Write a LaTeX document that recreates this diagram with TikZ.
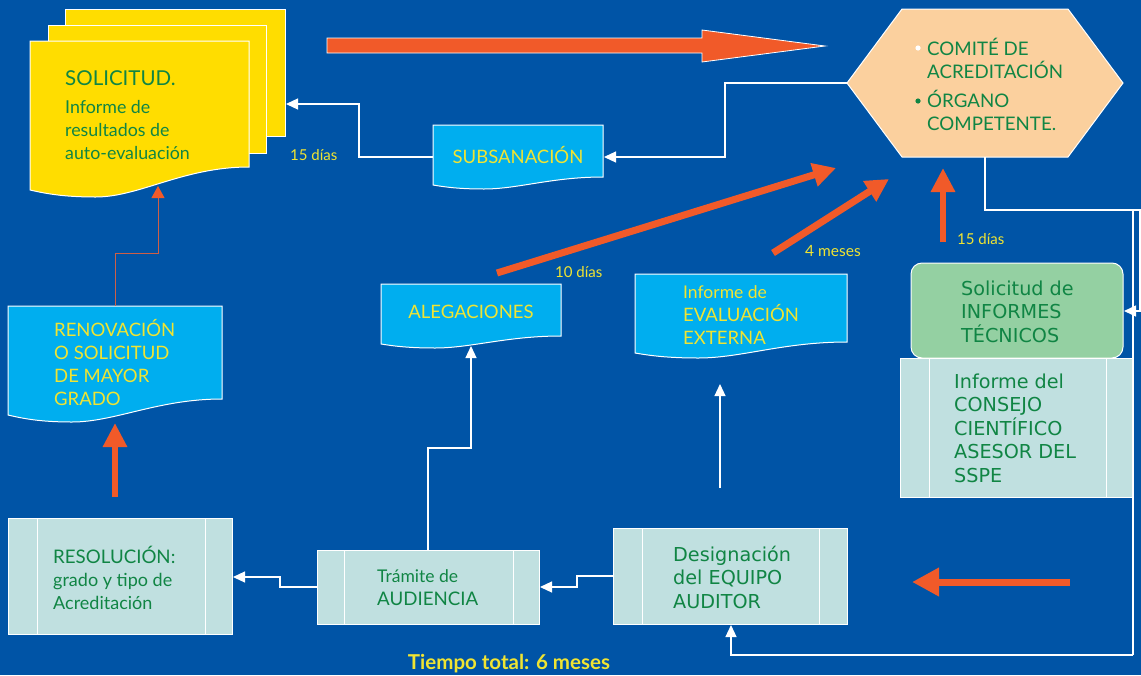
\documentclass[tikz,border=0pt]{standalone}
\usepackage{fontspec}
\setmainfont{Lato}
\newfontfamily\dvs{DejaVu Sans}
\usetikzlibrary{arrows.meta}
\definecolor{bgblue}{RGB}{0,84,166}
\definecolor{orng}{RGB}{241,90,41}
\definecolor{yfill}{RGB}{255,221,0}
\definecolor{cfill}{RGB}{0,174,239}
\definecolor{tfill}{RGB}{192,224,224}
\definecolor{gtxt}{RGB}{16,133,68}
\definecolor{ytxt}{RGB}{240,228,50}
\definecolor{pfill}{RGB}{251,208,158}
\definecolor{lgfill}{RGB}{148,208,162}
\definecolor{rline}{RGB}{205,95,70}
\tikzset{
  boxedge/.style={draw=white, line width=1pt},
  wline/.style={draw=white, line width=1.2pt},
  warrow/.style={wline, -{Triangle[length=12pt,width=11pt]}},
  oarrow/.style={draw=orng, line width=6.5pt, -{Triangle[length=24pt,width=23pt]}},
  darrow/.style={draw=orng, line width=7pt, -{Triangle[length=23pt,width=23pt]}},
  txt/.style={inner sep=0pt, anchor=base west},
  gl/.style={txt, text=gtxt, font=\fontsize{18.7}{22}\selectfont},
  gs/.style={txt, text=gtxt, font=\fontsize{17.8}{22}\selectfont},
  yl/.style={txt, text=ytxt, font=\fontsize{18.5}{22}\selectfont},
  ys/.style={txt, text=ytxt, font=\fontsize{17.5}{22}\selectfont},
  dl/.style={txt, text=gtxt, font=\dvs\fontsize{19.2}{22}\selectfont},
  dur/.style={txt, text=ytxt, font=\fontsize{15}{18}\selectfont},
}
\begin{document}
\begin{tikzpicture}[x=1pt,y=-1pt]
\fill[bgblue] (0,0) rectangle (1141,675);
\useasboundingbox (0,0) rectangle (1141,675);

% ---- SOLICITUD stacked pages
\filldraw[fill=yfill, boxedge] (65,9) rectangle (285,136);
\filldraw[fill=yfill, boxedge] (48,25) rectangle (266,153);
\filldraw[fill=yfill, boxedge] (30,41) -- (249,41) -- (249,167)
  .. controls (183.3,167) and (139.5,197) .. (95.7,197)
  .. controls (62.9,197) and (45.3,193.5) .. (30,190) -- cycle;
\node[gl, font=\fontsize{20.5}{22}\selectfont] (sol1) at (65,85) {SOLICITUD.};
\node[gs] (sol2) at (65,113) {Informe de};
\node[gs] (sol3) at (65,136) {resultados de};
\node[gs] (sol4) at (65,159) {auto-evaluación};

% ---- big top arrow
\filldraw[fill=orng, draw=white, line width=0.8pt]
  (327,38) -- (702,38) -- (702,30) -- (825,46) -- (702,62) -- (702,53) -- (327,53) -- cycle;

% ---- hexagon
\filldraw[fill=pfill, boxedge] (902,9) -- (1068,9) -- (1123,83) -- (1068,157) -- (902,157) -- (847,83) -- cycle;
\fill[white] (918,48) circle (2.6);
\fill[gtxt] (918,101) circle (2.6);
\node[gl] (hx1) at (927,55) {COMITÉ DE};
\node[gl] (hx2) at (927,78) {ACREDITACIÓN};
\node[gl] (hx3) at (927,107) {ÓRGANO};
\node[gl] (hx4) at (927,130) {COMPETENTE.};

% ---- SUBSANACION
\filldraw[fill=cfill, boxedge] (433,125) -- (603,125) -- (603,177)
  .. controls (552,177) and (518,189) .. (484,189)
  .. controls (458.5,189) and (445,187) .. (433,185) -- cycle;
\node[yl, anchor=base] (sub) at (518,163) {SUBSANACIÓN};
\node[dur] (d15a) at (290,160) {15 días};

% ---- RENOVACION
\filldraw[fill=cfill, boxedge] (8,306) -- (222,306) -- (222,399)
  .. controls (158,399) and (115,422) .. (72,422)
  .. controls (40,422) and (23,418.5) .. (8,415) -- cycle;
\node[yl] (ren1) at (54,336) {RENOVACIÓN};
\node[yl] (ren2) at (54,359) {O SOLICITUD};
\node[yl] (ren3) at (54,382) {DE MAYOR};
\node[yl] (ren4) at (54,405) {GRADO};

% ---- ALEGACIONES
\filldraw[fill=cfill, boxedge] (381,284) -- (561,284) -- (561,336)
  .. controls (507,336) and (471,348) .. (435,348)
  .. controls (408,348) and (393.6,346) .. (381,344) -- cycle;
\node[yl, anchor=base] (ale) at (471,318) {ALEGACIONES};
\node[dur] (d10) at (555,277) {10 días};

% ---- Informe de EVALUACION EXTERNA
\filldraw[fill=cfill, boxedge] (635,274) -- (847,274) -- (847,342)
  .. controls (783.4,342) and (741,358) .. (698.6,358)
  .. controls (666.8,358) and (649.8,355.5) .. (635,353) -- cycle;
\node[ys] (ee1) at (683,298) {Informe de};
\node[yl] (ee2) at (683,321) {EVALUACIÓN};
\node[yl] (ee3) at (683,344) {EXTERNA};
\node[dur, font=\fontsize{15.5}{18}\selectfont] (d4m) at (805,256) {4 meses};
\node[dur] (d15b) at (957,244) {15 días};

% ---- Solicitud de INFORMES TECNICOS
\filldraw[fill=lgfill, boxedge, rounded corners=11pt] (911,263) rectangle (1123,358);
\node[dl] (inf1) at (961,295) {Solicitud de};
\node[dl] (inf2) at (961,318) {INFORMES};
\node[dl] (inf3) at (961,342) {TÉCNICOS};

% ---- Informe del CONSEJO
\filldraw[fill=tfill, boxedge] (900,358) rectangle (1133,497);
\draw[boxedge] (929,358) -- (929,497) (1106,358) -- (1106,497);
\node[dl] (con1) at (954,388) {Informe del};
\node[dl] (con2) at (954,411) {CONSEJO};
\node[dl] (con3) at (954,435) {CIENTÍFICO};
\node[dl] (con4) at (954,458) {ASESOR DEL};
\node[dl] (con5) at (954,482) {SSPE};

% ---- RESOLUCION
\filldraw[fill=tfill, boxedge] (8,518) rectangle (232,634);
\draw[boxedge] (37,518) -- (37,634) (205,518) -- (205,634);
\node[gl] (res1) at (53,563) {RESOLUCIÓN:};
\node[gs, font=\fontsize{18}{22}\selectfont] (res2) at (53,586) {grado y tipo de};
\node[gs, font=\fontsize{18}{22}\selectfont] (res3) at (53,609) {Acreditación};

% ---- Tramite de AUDIENCIA
\filldraw[fill=tfill, boxedge] (317,550) rectangle (539,624);
\draw[boxedge] (344,550) -- (344,624) (513,550) -- (513,624);
\node[gs, font=\fontsize{17.5}{20}\selectfont] (tr1) at (377,582) {Trámite de};
\node[gl] (tr2) at (377,605) {AUDIENCIA};

% ---- Designacion del EQUIPO AUDITOR
\filldraw[fill=tfill, boxedge] (613,528) rectangle (847,624);
\draw[boxedge] (642,528) -- (642,624) (819,528) -- (819,624);
\node[dl] (de1) at (673,561) {Designación};
\node[dl] (de2) at (673,584) {del EQUIPO};
\node[dl] (de3) at (673,608) {AUDITOR};

\node[txt, anchor=base, text=ytxt, font=\bfseries\fontsize{20.5}{22}\selectfont] (tot) at (509,669) {Tiempo total: 6 meses};

% ---- connection points
\coordinate (hexL) at (847,83);
\coordinate (subR) at (604,157);
\coordinate (subL) at (433,157);
\coordinate (solR) at (286,104);
\coordinate (hexB) at (985,157);
\coordinate (infR) at (1124,311);
\coordinate (desB) at (731,625);
\coordinate (desL) at (613,576);
\coordinate (traR) at (540,587);
\coordinate (traL) at (317,587);
\coordinate (resR) at (233,577);
\coordinate (traT) at (428,550);
\coordinate (aleB) at (471,346);
\coordinate (eeS) at (720,488);
\coordinate (eeB) at (720,384);
\coordinate (renT) at (115,306);
\coordinate (solB) at (158,186);

% ---- white connectors
\draw[warrow] (hexL) -- (725,83) -- (725,157) -- (subR);
\draw[warrow] (subL) -- (359,157) -- (359,104) -- (solR);
\draw[warrow] (hexB) -- (985,210) -- (1140,210) -- (1140,311) -- (infR);
\draw[wline] (1133,210) -- (1133,655);
\draw[warrow] (1133,655) -- (731,655) -- (desB);
\draw[warrow] (desL) -- (577,576) -- (577,587) -- (traR);
\draw[warrow] (traL) -- (280,587) -- (280,577) -- (resR);
\draw[warrow] (traT) -- (428,448) -- (471,448) -- (aleB);
\draw[warrow] (eeS) -- (eeB);
\draw[draw=rline, line width=1pt, -{Triangle[length=12pt,width=13pt,color=orng]}] (renT) -- (115,253) -- (158,253) -- (solB);

% ---- orange arrows
\coordinate (o1s) at (497,273); \coordinate (o1e) at (836,168);
\coordinate (o2s) at (773,253); \coordinate (o2e) at (889,179);
\coordinate (o3s) at (943,242); \coordinate (o3e) at (943,168);
\coordinate (o4s) at (115,497); \coordinate (o4e) at (115,423);
\coordinate (o5s) at (1070,582); \coordinate (o5e) at (912,582);
\draw[darrow] (o1s) -- (o1e);
\draw[darrow] (o2s) -- (o2e);
\draw[oarrow] (o3s) -- (o3e);
\draw[oarrow] (o4s) -- (o4e);
\draw[draw=orng, line width=7pt, -{Triangle[length=27pt,width=27pt]}] (o5s) -- (o5e);
\end{tikzpicture}
\end{document}
